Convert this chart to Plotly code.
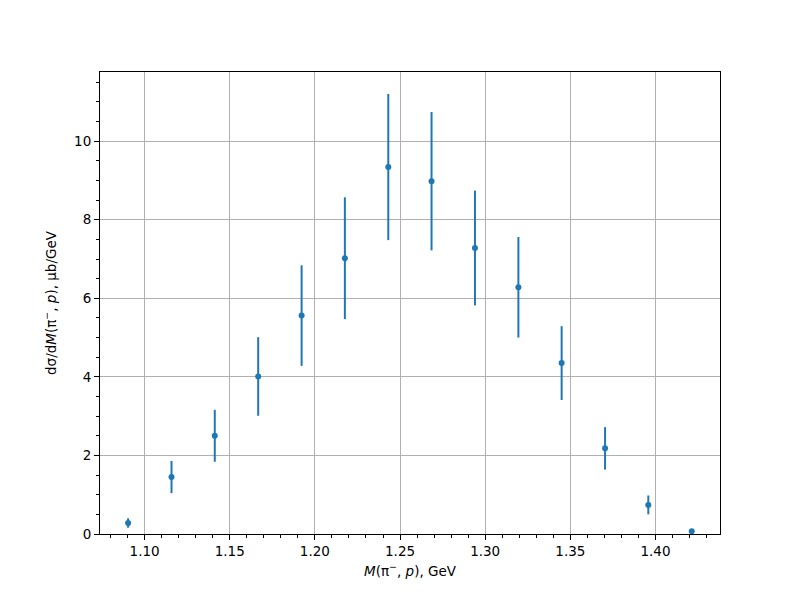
import plotly.graph_objects as go

mass = [1.0903, 1.1158, 1.1412, 1.1667, 1.1922, 1.2176, 1.2431,
        1.2685, 1.2940, 1.3195, 1.3449, 1.3704, 1.3958, 1.4213]
xsec = [0.28, 1.45, 2.50, 4.01, 5.56, 7.02, 9.34,
        8.98, 7.28, 6.28, 4.35, 2.18, 0.74, 0.07]
err = [0.12, 0.41, 0.66, 1.00, 1.28, 1.55, 1.86,
       1.76, 1.46, 1.28, 0.94, 0.54, 0.24, 0.03]

blue = "#1f77b4"
font = dict(family="DejaVu Sans", size=13.5, color="black")

fig = go.Figure()
fig.add_trace(go.Scatter(
    x=mass, y=xsec, mode="markers",
    marker=dict(color=blue, size=6),
    error_y=dict(type="data", array=err, visible=True, color=blue,
                 thickness=2, width=0),
    showlegend=False,
))

axis_common = dict(
    showline=True, linecolor="black", linewidth=1, mirror=True,
    ticks="outside", ticklen=5, tickwidth=1, tickcolor="black",
    showgrid=True, gridcolor="#b0b0b0", gridwidth=1,
    zeroline=False, tickfont=font,
)

fig.update_xaxes(
    range=[1.0738, 1.4379], tick0=1.1, dtick=0.05, tickformat=".2f",
    minor=dict(ticks="outside", dtick=0.01, tick0=1.1, ticklen=3,
               tickcolor="black", tickwidth=1, showgrid=False),
    title=dict(text="<i>M</i>(π<sup>−</sup>, <i>p</i>), GeV", font=font, standoff=8),
    **axis_common,
)
fig.update_yaxes(
    range=[0, 11.76], tick0=0, dtick=2,
    minor=dict(ticks="outside", dtick=0.5, tick0=0, ticklen=3,
               tickcolor="black", tickwidth=1, showgrid=False),
    title=dict(text="dσ/d<i>M</i>(π<sup>−</sup>, <i>p</i>), μb/GeV", font=font, standoff=14),
    **axis_common,
)

fig.update_layout(
    width=800, height=600,
    margin=dict(l=100, r=80, t=72, b=66),
    plot_bgcolor="white", paper_bgcolor="white",
    font=font,
)

fig.write_html("out.html", config={"displayModeBar": False},
               post_script="document.body.style.margin='0';")
